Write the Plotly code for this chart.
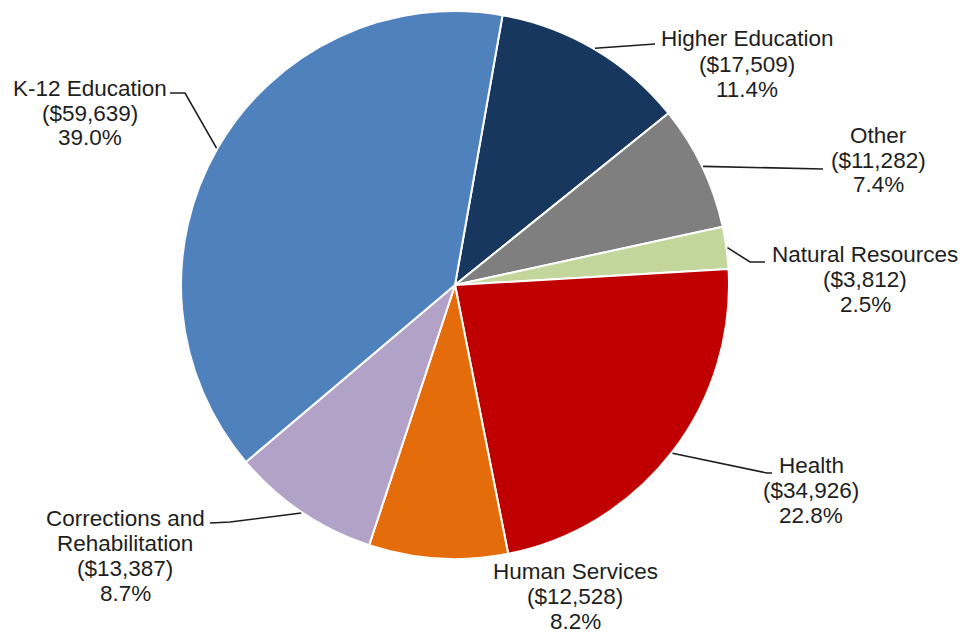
import math
import plotly.graph_objects as go

categories = ["Higher Education", "Other", "Natural Resources", "Health",
              "Human Services", "Corrections and Rehabilitation", "K-12 Education"]
label_lines = [["Higher Education"], ["Other"], ["Natural Resources"], ["Health"],
               ["Human Services"], ["Corrections and", "Rehabilitation"], ["K-12 Education"]]
values = [17509, 11282, 3812, 34926, 12528, 13387, 59639]
colors = ["#17375E", "#7F7F7F", "#C3D69B", "#C00000", "#E46C0A", "#B3A2C7", "#4F81BD"]

W, H = 964, 635
CX, CY, R = 455, 285, 274
ROT = 10

total = sum(values)
pcts = [v / total * 100 for v in values]

fig = go.Figure(go.Pie(
    labels=categories,
    values=values,
    sort=False,
    direction="clockwise",
    rotation=ROT,
    marker=dict(colors=colors, line=dict(color="white", width=2)),
    textinfo="none",
    hoverinfo="label+value+percent",
    domain=dict(x=[(CX - R) / W, (CX + R) / W], y=[(H - CY - R) / H, (H - CY + R) / H]),
    showlegend=False,
))

# label block positions: center x, y of first line, line step (px)
label_pos = [(747, 39), (878, 135), (865, 254), (811, 465), (575, 571), (125, 518), (90, 88)]
STEP = 25
leader = [
    [(655, 44)],
    [(823, 169)],
    [(750, 262), (765, 262)],
    [(767, 473), (772, 473)],
    None,
    [(230, 522), (210, 523)],
    [(185, 93), (170, 93)],
]

def px(x, y):
    return x / W, 1 - y / H

annotations = []
shapes = []
cum = 0.0
for i, (v, p) in enumerate(zip(values, pcts)):
    mid = ROT + (cum + p / 2) * 3.6
    cum += p
    lines = label_lines[i] + [f"(${v:,})", f"{p:.1f}%"]
    lx, ly = label_pos[i]
    for k, t in enumerate(lines):
        ax, ay = px(lx, ly + k * STEP)
        annotations.append(dict(
            x=ax, y=ay, xref="paper", yref="paper", showarrow=False,
            text=t,
            font=dict(family="Liberation Sans, Arial", size=22.5, color="#1e1e1e"),
            align="center", xanchor="center", yanchor="middle",
        ))
    if leader[i]:
        a = math.radians(mid)
        sx = CX + (R + 1) * math.sin(a)
        sy = CY - (R + 1) * math.cos(a)
        pts = [(sx, sy)] + leader[i]
        path = "M " + " L ".join(f"{px(x, y)[0]:.5f},{px(x, y)[1]:.5f}" for x, y in pts)
        shapes.append(dict(type="path", xref="paper", yref="paper", path=path,
                           line=dict(color="#1e1e1e", width=1.6)))

fig.update_layout(
    width=W, height=H,
    margin=dict(l=0, r=0, t=0, b=0),
    paper_bgcolor="white", plot_bgcolor="white",
    annotations=annotations, shapes=shapes,
)

fig.write_html("out.html", config={"displayModeBar": False},
               post_script="document.body.style.margin='0px';")
